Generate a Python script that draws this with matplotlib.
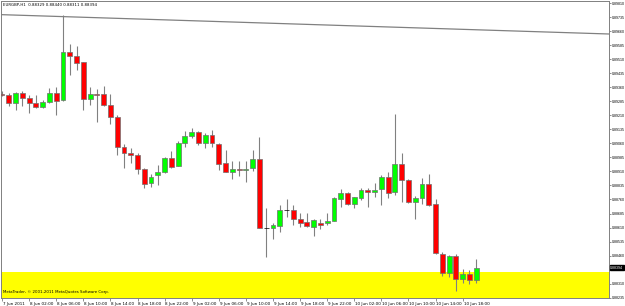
import numpy as np
import matplotlib
matplotlib.use("Agg")
import matplotlib.pyplot as plt
import matplotlib.transforms as mtransforms

# EURGBP H1, 7 Jun 2011 22:00 .. 10 Jun 2011 20:00
opens = [0.89325, 0.89319, 0.89278, 0.89332, 0.89305, 0.89275, 0.89254, 0.89284, 0.89329, 0.89293,
         0.89551, 0.89530, 0.89494, 0.89296, 0.89325, 0.89323, 0.89266, 0.89200, 0.89043, 0.89011,
         0.88998, 0.88924, 0.88847, 0.88891, 0.88906, 0.88984, 0.88940, 0.89061, 0.89100, 0.89120,
         0.89061, 0.89106, 0.89057, 0.88954, 0.88909, 0.88924, 0.88918, 0.88927, 0.88975, 0.88610,
         0.88610, 0.88620, 0.88703, 0.88703, 0.88654, 0.88638, 0.88615, 0.88633, 0.88636, 0.88647,
         0.88761, 0.88794, 0.88735, 0.88767, 0.88811, 0.88802, 0.88815, 0.88879, 0.88799, 0.88950,
         0.88865, 0.88749, 0.88770, 0.88842, 0.88736, 0.88469, 0.88366, 0.88460, 0.88333, 0.88362,
         0.88329]
highs = [0.89341, 0.89330, 0.89336, 0.89343, 0.89319, 0.89319, 0.89293, 0.89355, 0.89361, 0.89748,
         0.89591, 0.89582, 0.89496, 0.89364, 0.89350, 0.89368, 0.89323, 0.89212, 0.89057, 0.89034,
         0.89008, 0.88926, 0.88897, 0.88945, 0.88988, 0.89020, 0.89075, 0.89127, 0.89141, 0.89127,
         0.89118, 0.89132, 0.89061, 0.89025, 0.88966, 0.88966, 0.88966, 0.89025, 0.89096, 0.88715,
         0.88636, 0.88731, 0.88761, 0.88731, 0.88687, 0.88690, 0.88654, 0.88654, 0.88687, 0.88775,
         0.88815, 0.88802, 0.88774, 0.88820, 0.88824, 0.88850, 0.88891, 0.88909, 0.89218, 0.89008,
         0.88868, 0.88779, 0.88877, 0.88895, 0.88763, 0.88481, 0.88463, 0.88467, 0.88389, 0.88383,
         0.88440]
lows = [0.89314, 0.89261, 0.89239, 0.89261, 0.89223, 0.89250, 0.89250, 0.89277, 0.89212, 0.89287,
        0.89426, 0.89453, 0.89239, 0.89266, 0.89177, 0.89261, 0.89164, 0.88998, 0.88927, 0.88954,
        0.88897, 0.88824, 0.88829, 0.88838, 0.88902, 0.88927, 0.88938, 0.89043, 0.89088, 0.89052,
        0.89034, 0.89043, 0.88918, 0.88905, 0.88868, 0.88886, 0.88856, 0.88913, 0.88608, 0.88454,
        0.88547, 0.88585, 0.88665, 0.88624, 0.88615, 0.88612, 0.88567, 0.88601, 0.88624, 0.88645,
        0.88720, 0.88731, 0.88713, 0.88758, 0.88720, 0.88775, 0.88731, 0.88767, 0.88784, 0.88749,
        0.88742, 0.88654, 0.88736, 0.88726, 0.88470, 0.88353, 0.88347, 0.88273, 0.88312, 0.88307,
        0.88311]
closes = [0.89319, 0.89277, 0.89332, 0.89302, 0.89277, 0.89255, 0.89284, 0.89329, 0.89289, 0.89551,
          0.89528, 0.89492, 0.89296, 0.89323, 0.89321, 0.89264, 0.89200, 0.89043, 0.89011, 0.88998,
          0.88924, 0.88843, 0.88879, 0.88909, 0.88984, 0.88936, 0.89064, 0.89100, 0.89120, 0.89061,
          0.89106, 0.89061, 0.88949, 0.88909, 0.88924, 0.88918, 0.88924, 0.88975, 0.88610, 0.88610,
          0.88624, 0.88704, 0.88703, 0.88654, 0.88636, 0.88619, 0.88651, 0.88624, 0.88645, 0.88767,
          0.88794, 0.88735, 0.88772, 0.88811, 0.88802, 0.88811, 0.88879, 0.88797, 0.88950, 0.88865,
          0.88749, 0.88770, 0.88842, 0.88731, 0.88473, 0.88366, 0.88460, 0.88333, 0.88362, 0.88330,
          0.88394]

date_labels = ["7 Jun 2011", "8 Jun 02:00", "8 Jun 06:00", "8 Jun 10:00", "8 Jun 14:00",
               "8 Jun 18:00", "8 Jun 22:00", "9 Jun 02:00", "9 Jun 06:00", "9 Jun 10:00",
               "9 Jun 14:00", "9 Jun 18:00", "9 Jun 22:00", "10 Jun 02:00", "10 Jun 06:00",
               "10 Jun 10:00", "10 Jun 14:00", "10 Jun 18:00"]
date_bars = list(range(0, 72, 4))

price_ticks = ["0.89810", "0.89735", "0.89660", "0.89585", "0.89510", "0.89435", "0.89360",
               "0.89285", "0.89210", "0.89135", "0.89060", "0.88985", "0.88910", "0.88835",
               "0.88760", "0.88685", "0.88610", "0.88535", "0.88460", "0.88310", "0.88235"]

# trendline (two anchor points) and yellow rectangle price range
trend_bars = [-1, 90]
trend_prices = [0.89750, 0.89645]
rect_top = 0.88372
rect_bottom = 0.88200

header = "EURGBP,H1  0.88329 0.88440 0.88311 0.88394"
copyright_txt = "MetaTrader, \u00a9 2001-2011 MetaQuotes Software Corp."
last_price = closes[-1]

o = np.array(opens)
c = np.array(closes)
h = np.array(highs)
l = np.array(lows)
x = np.arange(len(o))

fig = plt.figure(figsize=(6.25, 3.06), dpi=100)
ax = fig.add_axes([1/625, 8/306, 608/625, 297/306])
ax.set_facecolor("white")

ax.axhspan(rect_bottom, rect_top, color="#ffff00", zorder=1, lw=0)
ax.plot(trend_bars, trend_prices, color="#808080", lw=0.9, zorder=2)

ax.vlines(x, l, h, color="#808080", lw=0.8, zorder=3)
cols = np.where(c > o, "#00ff00", "#ff0000")
edges = np.where(c == o, "black", "#707070")
ax.bar(x, np.abs(c - o), bottom=np.minimum(o, c), width=0.72, color=cols,
       edgecolor=edges, linewidth=0.5, zorder=4)

ax.set_xlim(-0.15, 89.6)
ax.set_ylim(0.88233, 0.89822)

ax.set_xticks(date_bars)
ax.set_xticklabels(date_labels, fontsize=3, ha="left")
ax.set_yticks([float(t) for t in price_ticks])
ax.set_yticklabels(price_ticks, fontsize=2.6, family="Liberation Sans")
ax.yaxis.tick_right()
ax.tick_params(axis="x", length=2, width=0.5, color="#606060", pad=1)
ax.tick_params(axis="y", length=1.5, width=0.5, color="#606060", pad=0.5)
for lab in ax.get_xticklabels():
    lab.set_transform(lab.get_transform() + mtransforms.ScaledTranslation(0.6/72, 0, fig.dpi_scale_trans))

for s in ax.spines.values():
    s.set_color("#808080")
    s.set_linewidth(0.7)

trans = mtransforms.blended_transform_factory(ax.transAxes, ax.transData)
ax.text(1.002, last_price, "%.5f" % last_price, transform=trans, fontsize=2.6,
        family="Liberation Sans", color="white", va="center", ha="left",
        bbox=dict(facecolor="black", edgecolor="black", pad=0.3))

ax.text(0.003, 0.993, header, transform=ax.transAxes, fontsize=2.8, va="top", ha="left")
ax.text(0.003, 0.012, copyright_txt, transform=ax.transAxes, fontsize=2.8, va="bottom", ha="left",
        zorder=6)

fig.savefig("out.png", dpi=100)
